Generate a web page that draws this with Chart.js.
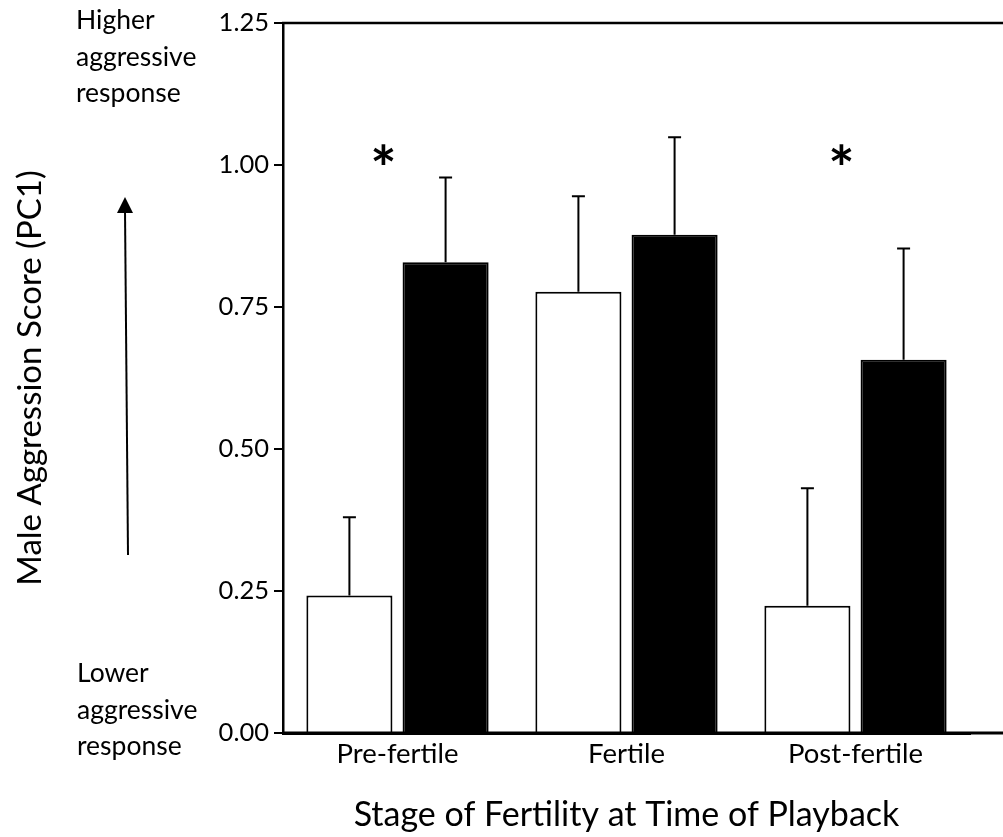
<!DOCTYPE html>
<html>
<head>
<meta charset="utf-8">
<script src="https://cdn.jsdelivr.net/npm/chart.js@4/dist/chart.umd.min.js"></script>
<style>
  html, body { margin: 0; padding: 0; background: #fff; }
  #wrap { width: 1003px; height: 837px; }
</style>
</head>
<body>
<div id="wrap"><canvas id="barChart" width="1003" height="837"></canvas></div>
<script>
// --- data ---
const categories = ['Pre-fertile', 'Fertile', 'Post-fertile'];
const openMeans = [0.242, 0.777, 0.224];
const openSE = [0.138, 0.168, 0.207];
const filledMeans = [0.829, 0.877, 0.657];
const filledSE = [0.149, 0.172, 0.196];
const yTicks = [0, 0.25, 0.5, 0.75, 1.0, 1.25];
const sigMarks = ['*', '', '*'];

const FONT = 'Lato, "Open Sans", sans-serif';

// upward-only error bars with a small cap
const errorBars = {
    id: 'errorBars',
    afterDatasetsDraw(chart) {
        const ctx = chart.ctx;
        const y = chart.scales.y;
        const errs = [openSE, filledSE];
        ctx.save();
        ctx.strokeStyle = '#000';
        ctx.lineWidth = 2;
        chart.data.datasets.forEach((ds, i) => {
            chart.getDatasetMeta(i).data.forEach((bar, j) => {
                const top = y.getPixelForValue(ds.data[j] + errs[i][j]);
                ctx.beginPath();
                ctx.moveTo(bar.x, bar.y);
                ctx.lineTo(bar.x, top);
                ctx.moveTo(bar.x - 6.5, top);
                ctx.lineTo(bar.x + 6.5, top);
                ctx.stroke();
            });
        });
        ctx.restore();
    }
};

// frame lines, significance stars, side notes and arrow
const extras = {
    id: 'extras',
    afterDraw(chart) {
        const ctx = chart.ctx;
        const area = chart.chartArea;
        const x = chart.scales.x, y = chart.scales.y;
        ctx.save();
        ctx.strokeStyle = '#000';
        // top frame line, and the baseline run out to the edge
        ctx.lineWidth = 2.5;
        ctx.beginPath();
        ctx.moveTo(area.left - 1, area.top);
        ctx.lineTo(chart.width, area.top);
        ctx.stroke();
        ctx.lineWidth = 3;
        ctx.beginPath();
        ctx.moveTo(area.left - 1, area.bottom);
        ctx.lineTo(chart.width, area.bottom);
        ctx.stroke();

        // stars
        ctx.fillStyle = '#000';
        ctx.font = 'bold 62px ' + FONT;
        ctx.textAlign = 'center';
        ctx.textBaseline = 'middle';
        sigMarks.forEach((m, i) => {
            if (m) ctx.fillText(m, x.getPixelForValue(i) - 14, y.getPixelForValue(1.0) + 6);
        });

        // side notes
        ctx.font = '26.5px ' + FONT;
        ctx.textAlign = 'left';
        ctx.textBaseline = 'alphabetic';
        ['Higher', 'aggressive', 'response'].forEach((t, k) => ctx.fillText(t, 76, 29 + k * 36.5));
        ['Lower', 'aggressive', 'response'].forEach((t, k) => ctx.fillText(t, 77, 682 + k * 36.5));

        // arrow
        ctx.lineWidth = 2;
        ctx.beginPath();
        ctx.moveTo(128, 555);
        ctx.lineTo(125, 210);
        ctx.stroke();
        ctx.beginPath();
        ctx.moveTo(125, 197);
        ctx.lineTo(117, 213);
        ctx.lineTo(133, 213);
        ctx.closePath();
        ctx.fill();
        ctx.restore();
    }
};

const ctx = document.getElementById('barChart').getContext('2d');
const barChart = new Chart(ctx, {
    type: 'bar',
    data: {
        labels: categories,
        datasets: [
            {
                label: 'Open bars',
                data: openMeans,
                backgroundColor: '#ffffff',
                borderColor: '#000000',
                borderWidth: 2,
                categoryPercentage: 0.84,
                barPercentage: 0.895
            },
            {
                label: 'Filled bars',
                data: filledMeans,
                backgroundColor: '#000000',
                borderColor: '#000000',
                borderWidth: 2,
                categoryPercentage: 0.84,
                barPercentage: 0.895
            }
        ]
    },
    options: {
        responsive: false,
        animation: false,
        layout: { padding: { left: 0, top: 23, right: 33, bottom: 0 } },
        plugins: {
            legend: { display: false },
            tooltip: { enabled: false }
        },
        scales: {
            x: {
                grid: { display: false, drawTicks: false },
                border: { display: true, color: '#000', width: 3 },
                ticks: { color: '#000', font: { family: FONT, size: 27.5 }, padding: 5 },
                title: {
                    display: true,
                    text: 'Stage of Fertility at Time of Playback',
                    color: '#000',
                    font: { family: FONT, size: 34 },
                    padding: { top: 0, bottom: 2 }
                },
                afterFit: s => { s.height = 104; }
            },
            y: {
                min: 0,
                max: 1.25,
                grid: { display: true, drawOnChartArea: false, drawTicks: true, tickLength: 9, color: '#000', lineWidth: 2 },
                border: { display: true, color: '#000', width: 2.5 },
                afterBuildTicks: s => { s.ticks = yTicks.map(v => ({ value: v })); },
                ticks: {
                    color: '#000',
                    font: { family: FONT, size: 25.5 },
                    padding: 5,
                    callback: v => v.toFixed(2)
                },
                title: {
                    display: true,
                    text: 'Male Aggression Score (PC1)',
                    color: '#000',
                    font: { family: FONT, size: 33 },
                    padding: { top: 11, bottom: 0 }
                },
                afterFit: s => { s.width = 283; }
            }
        }
    },
    plugins: [errorBars, extras]
});
</script>
</body>
</html>
